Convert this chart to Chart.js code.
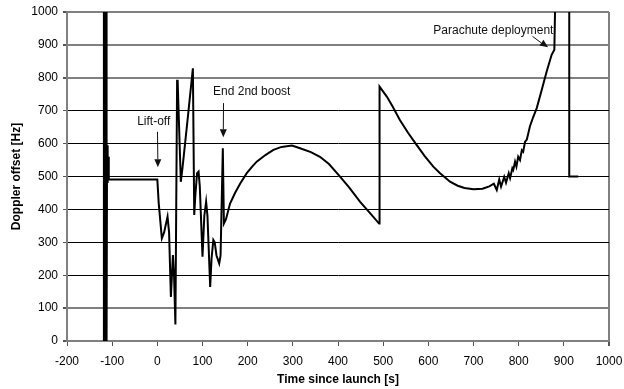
<!DOCTYPE html>
<html><head><meta charset="utf-8">
<script src="https://cdn.jsdelivr.net/npm/chart.js@4.4.1/dist/chart.umd.min.js"></script>
<style>html,body{margin:0;padding:0;background:#fff}#wrap{width:624px;height:389px;position:relative}</style>
</head><body><div id="wrap"><canvas id="c"></canvas></div>
<script>
// ---- data ----
const timeSec = [
  -119,-118.3,-117.6,-116.9,-116.2,-115.5,-114.8,-114.1,-113.4,-112.7,-112,
  -111.3,-110.6,-110,-109.3,-108.6,-107.5,-50,0,
  3,10,15,22.6,26,30,34.5,37,40,43.8,44.6,45.2,52,56,66,78.7,81.7,84,88,91.3,94,100,104,108,111,117,120,124,127,131,137,140,145,147.4,
  152,161,172,183.5,198,210,220,240,257,275,298,316,340,360,380,405,425,449,470,491,
  492,508,520,537,555,574,592,611,626,648,665,680,700,720,735,745,
  751.5,757,761,768,772,778,781,786,788,792,795,799,803,807,810,814,818,825,832,840,851,862,873,879,880.5,
  896,912,912,932
];
const dopplerHz = [
  0,1000,0,1000,0,1000,0,1000,0,1000,0,
  595,480,595,484,560,491,491,491,
  420,312,330,378,330,134,261,200,50,794,760,794,484,530,660,829,383,440,510,515,470,256,380,423,380,164,250,307,300,260,236,260,586,357,
  370,418,450,479,510,530,545,566,581,590,594,586,574,560,538,499,466,423,390,357,
  773,743,715,672,633,596,562,530,510,484,472,465,461,463,470,478,
  459,491,469,499,481,510,495,525,520,545,530,560,550,580,575,605,612,653,680,708,763,819,870,885,1000,
  null,1000,500,500
];
const xTickValues = [-200,-100,0,100,200,300,400,500,600,700,800,900,1000];
const yTickValues = [0,100,200,300,400,500,600,700,800,900,1000];
const xTitle = 'Time since launch [s]';
const yTitle = 'Doppler offset [Hz]';
const noteTexts = ['Lift-off', 'End 2nd boost', 'Parachute deployment'];

// ---- chart ----
const points = timeSec.map((t, i) => ({x: t, y: dopplerHz[i]}));
const grayLines = new Set([0, 100, 800, 900, 1000]);
const FONT = 'Liberation Sans, Arial, sans-serif';

const notes = [
  {text: noteTexts[0], at: [-8, 667], from: [0, 636], to: [0, 528]},
  {text: noteTexts[1], at: [209, 758], from: [145, 723], to: [145, 619]},
  {text: noteTexts[2], at: [744, 944], from: [829, 926], to: [864, 893]}
];

const notePlugin = {
  id: 'notes',
  afterDatasetsDraw(chart) {
    const {ctx, scales: {x, y}} = chart;
    ctx.save();
    ctx.fillStyle = '#111';
    ctx.strokeStyle = '#111';
    ctx.lineWidth = 1;
    ctx.font = '12px ' + FONT;
    ctx.textAlign = 'center';
    ctx.textBaseline = 'middle';
    notes.forEach(n => {
      ctx.fillText(n.text, x.getPixelForValue(n.at[0]), y.getPixelForValue(n.at[1]));
      const x1 = x.getPixelForValue(n.from[0]), y1 = y.getPixelForValue(n.from[1]);
      const x2 = x.getPixelForValue(n.to[0]), y2 = y.getPixelForValue(n.to[1]);
      const ang = Math.atan2(y2 - y1, x2 - x1);
      const hl = 8, hw = 3.5;
      const bx = x2 - hl * Math.cos(ang), by = y2 - hl * Math.sin(ang);
      ctx.beginPath();
      ctx.moveTo(Math.round(x1) + 0.5, y1);
      ctx.lineTo(bx + (x1 === x2 ? 0.5 : 0), by);
      ctx.stroke();
      ctx.beginPath();
      ctx.moveTo(x2 + 0.5, y2);
      ctx.lineTo(bx + 0.5 - hw * Math.sin(ang), by + hw * Math.cos(ang));
      ctx.lineTo(bx + 0.5 + hw * Math.sin(ang), by - hw * Math.cos(ang));
      ctx.closePath();
      ctx.fill();
    });
    ctx.restore();
  }
};

new Chart(document.getElementById('c'), {
  type: 'line',
  data: {
    datasets: [{
      data: points,
      borderColor: '#000',
      borderWidth: 2,
      pointRadius: 0,
      tension: 0,
      spanGaps: false,
      clip: 0
    }]
  },
  options: {
    responsive: true,
    maintainAspectRatio: false,
    animation: false,
    layout: {padding: {left: 0, right: 15, top: 12, bottom: 0}},
    plugins: {legend: {display: false}, tooltip: {enabled: false}},
    scales: {
      x: {
        type: 'linear',
        min: xTickValues[0],
        max: xTickValues[xTickValues.length - 1],
        afterFit: s => { s.height = 48; s.paddingRight = 0; s.paddingLeft = 0; },
        afterBuildTicks: s => { s.ticks = xTickValues.map(v => ({value: v})); },
        ticks: {color: '#000', font: {family: FONT, size: 12}, padding: 8, maxRotation: 0, autoSkip: false,
                callback: v => String(v)},
        grid: {
          drawOnChartArea: true,
          color: c => (c.tick && c.tick.value === 1000) ? '#808080' : 'rgba(0,0,0,0)',
          tickColor: '#555',
          lineWidth: c => (c.tick && c.tick.value === 1000) ? 2 : 1,
          tickLength: 5
        },
        border: {display: true, color: '#808080', width: 2},
        title: {display: true, text: xTitle, color: '#000', font: {family: FONT, size: 12, weight: 'bold'}, padding: {top: 0, bottom: 2}}
      },
      y: {
        type: 'linear',
        min: yTickValues[0],
        max: yTickValues[yTickValues.length - 1],
        afterFit: s => { s.width = 67; s.paddingTop = 0; s.paddingBottom = 0; },
        afterBuildTicks: s => { s.ticks = yTickValues.map(v => ({value: v})); },
        ticks: {color: '#000', font: {family: FONT, size: 12}, padding: 5, callback: v => String(v)},
        grid: {
          color: c => (c.tick && grayLines.has(c.tick.value)) ? '#808080' : '#000',
          lineWidth: c => (c.tick && grayLines.has(c.tick.value)) ? 2 : 1,
          tickColor: '#555',
          tickLength: 4
        },
        border: {display: true, color: '#808080', width: 2},
        title: {display: true, text: yTitle, color: '#000', font: {family: FONT, size: 12, weight: 'bold'}, padding: {top: 9.5, bottom: 0}}
      }
    }
  },
  plugins: [notePlugin]
});
</script>
</body></html>
